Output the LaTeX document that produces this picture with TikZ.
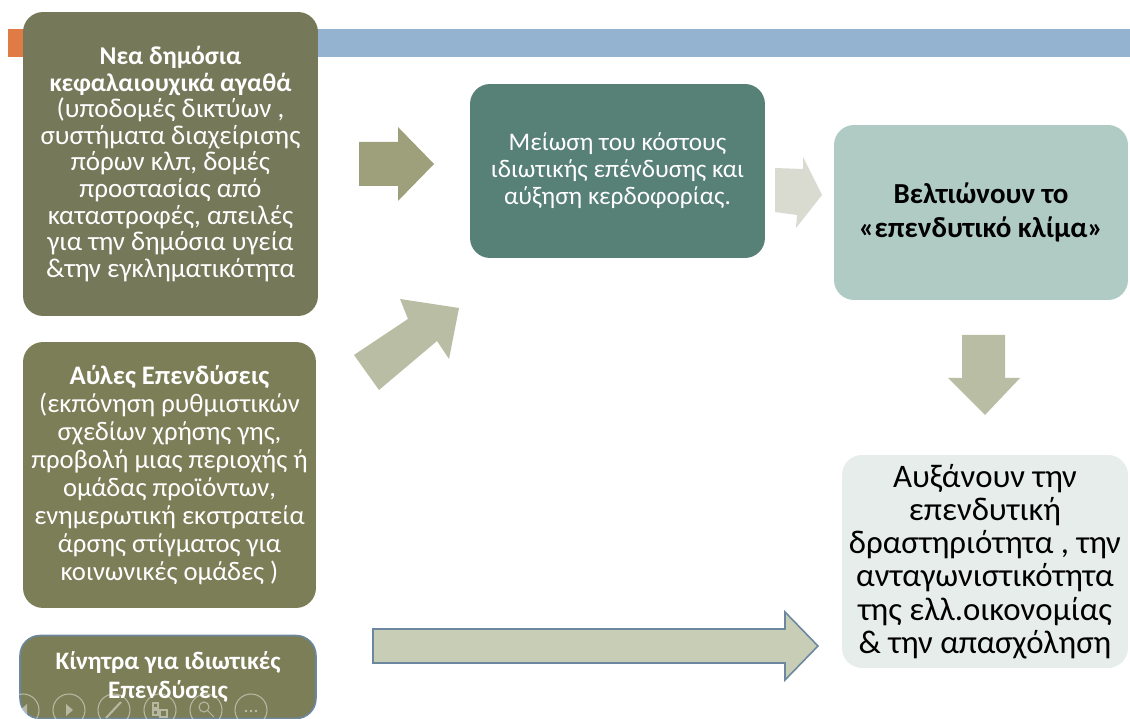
\documentclass[tikz,border=0pt]{standalone}
\usepackage{fontspec}
\setmainfont{Carlito}

\definecolor{laranja}{RGB}{224,123,69}
\definecolor{azulbarra}{RGB}{147,179,208}
\definecolor{olivaescura}{RGB}{118,120,90}
\definecolor{oliva}{RGB}{124,126,87}
\definecolor{petroleo}{RGB}{87,128,118}
\definecolor{verdeclaro}{RGB}{175,203,196}
\definecolor{cinzaclaro}{RGB}{230,237,234}
\definecolor{seta1}{RGB}{157,160,122}
\definecolor{seta2}{RGB}{184,189,163}
\definecolor{seta3}{RGB}{218,219,208}
\definecolor{seta5}{RGB}{200,205,181}
\definecolor{bordaazul}{RGB}{108,136,160}

\tikzset{
  caixa/.style={rounded corners=0.4cm, align=center, inner sep=1pt},
  icone/.style={draw=white, opacity=0.45, line width=0.6pt}
}

\begin{document}
\begin{tikzpicture}[x=0.02cm, y=-0.02cm]

    % Moldura
    \useasboundingbox (0,0) rectangle (1130,719);
    \fill[white] (0,0) rectangle (1130,719);

    % Barras do título
    \fill[laranja] (8,29) rectangle (40,57);
    \fill[azulbarra] (300,29) rectangle (1130,57);

    % Caixas da esquerda
    \node[caixa, fill=olivaescura, text=white, minimum width=5.9cm, minimum height=6.08cm,
          font=\fontsize{15.4}{15.1}\selectfont] (publicos) at (170.5,164)
      {{\fontsize{14.6}{15.1}\selectfont\bfseries Νεα δημόσια}\\ {\fontsize{14.6}{15.1}\selectfont\bfseries κεφαλαιουχικά αγαθά}\\ (υποδομές δικτύων ,\\ συστήματα διαχείρισης\\ πόρων κλπ, δομές\\ προστασίας από\\ καταστροφές, απειλές\\ για την δημόσια υγεία\\ \&την εγκληματικότητα};

    \node[caixa, fill=oliva, text=white, minimum width=5.86cm, minimum height=5.32cm,
          font=\fontsize{15.2}{15.9}\selectfont] (ayles) at (169.5,475)
      {\textbf{Αύλες Επενδύσεις}\\ (εκπόνηση ρυθμιστικών\\ σχεδίων χρήσης γης,\\ προβολή μιας περιοχής ή\\ ομάδας προϊόντων,\\ ενημερωτική εκστρατεία\\ άρσης στίγματος για\\ κοινωνικές ομάδες )};

    \node[caixa, fill=oliva, draw=bordaazul, line width=0.9pt, text=white, minimum width=5.92cm,
          minimum height=1.66cm, font=\fontsize{14.3}{16.4}\selectfont\bfseries]
      (kinitra) at (168,677) {Κίνητρα για ιδιωτικές\\ Επενδύσεις};

    % Caixas do meio e da direita
    \node[caixa, fill=petroleo, text=white, minimum width=5.9cm, minimum height=3.48cm,
          font=\fontsize{14.4}{15.3}\selectfont] (meiosi) at (617.5,171)
      {Μείωση του κόστους\\ ιδιωτικής επένδυσης και\\ αύξηση κερδοφορίας.};

    \node[caixa, fill=verdeclaro, text=black, minimum width=5.88cm, minimum height=3.5cm,
          font=\fontsize{16.5}{19.8}\selectfont\bfseries] (klima) at (981,212.5)
      {Βελτιώνουν το\\ «επενδυτικό κλίμα»};

    \node[caixa, fill=cinzaclaro, text=black, minimum width=5.72cm, minimum height=4.26cm,
          font=\fontsize{18.7}{18.9}\selectfont] (ayxanoun) at (985,561.5)
      {Αυξάνουν την\\ επενδυτική\\ δραστηριότητα , την\\ ανταγωνιστικότητα\\ της ελλ.οικονομίας\\ \& την απασχόληση};

    % Setas
    \fill[seta1] (359,142) -- (398,142) -- (398,127) -- (434,164) -- (398,201) -- (398,186) -- (359,186) -- cycle;
    \fill[seta2] (354,355) -- (408,319) -- (400,299) -- (459,308) -- (449,359) -- (437,341) -- (379,390) -- cycle;
    \fill[seta3] (775,168) -- (803,169) -- (803,157) -- (822,195) -- (796,228) -- (797,215) -- (775,212) -- cycle;
    \fill[seta2] (962,335) -- (1005,335) -- (1005,378) -- (1020,378) -- (985,415) -- (948,378) -- (962,378) -- cycle;
    \filldraw[fill=seta5, draw=bordaazul, line width=0.9pt]
      (373,629) -- (785,629) -- (785,612) -- (818,646) -- (785,680) -- (785,663) -- (373,663) -- cycle;

    % Ícones da apresentação
    \foreach \i/\cx in {1/23,2/69,3/114,4/160,5/206,6/251}
        \draw[icone] (\cx,710) circle (16);
    \fill[white, opacity=0.45] (20,710) -- (27,704) -- (27,716) -- cycle;
    \fill[white, opacity=0.45] (73,710) -- (66,704) -- (66,716) -- cycle;
    \draw[icone, line width=1.2pt] (106,718) -- (121,702);
    \draw[icone] (153,703) rectangle (158,708) (153,710) rectangle (158,715) (160,710) rectangle (167,717);
    \draw[icone] (204,707) circle (5) (208,711) -- (214,717);
    \foreach \dx in {-5,0,5}
        \fill[white, opacity=0.5] (251+\dx,711) circle (1.3);

\end{tikzpicture}
\end{document}
